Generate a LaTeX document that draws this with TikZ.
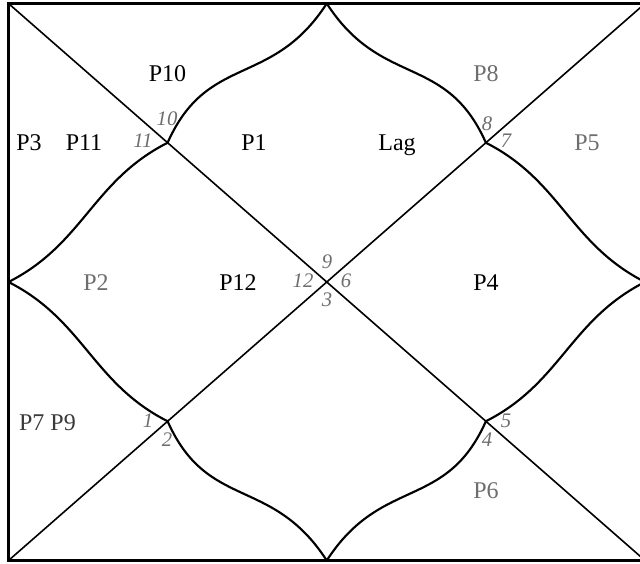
\documentclass[tikz,border=0pt]{standalone}
\usepackage{fontspec}
\setmainfont{Liberation Serif}
\usetikzlibrary{calc}
\definecolor{dimtext}{HTML}{6E6E6E}
\definecolor{midtext}{HTML}{3A3A3A}
\begin{document}
\begin{tikzpicture}[x=0.75pt,y=-0.75pt,
  house/.style={font=\fontsize{18}{20}\selectfont, anchor=base, inner sep=0pt},
  dimhouse/.style={house, text=dimtext},
  num/.style={font=\fontsize{15.5}{17}\selectfont\itshape, text=dimtext, inner sep=0pt},
  frame/.style={line width=2.7pt},
  diag/.style={line width=1.2pt},
  petal/.style={line width=1.6pt}]
\useasboundingbox (0,0) rectangle (640,564);
\fill[white] (0,0) rectangle (640,564);
\clip (0,0) rectangle (640,564);
% key points
\coordinate (TL) at (8.5,3.5);
\coordinate (TR) at (645,3.5);
\coordinate (BL) at (8.5,560.5);
\coordinate (BR) at (645,560.5);
\coordinate (T) at (326.75,3.5);
\coordinate (B) at (326.75,560.5);
\coordinate (L) at (8.5,282);
\coordinate (R) at (645,282);
\coordinate (C) at (326.75,282);
\coordinate (Q1) at (167.6,142.75);
\coordinate (Q2) at (485.9,142.75);
\coordinate (Q3) at (167.6,421.25);
\coordinate (Q4) at (485.9,421.25);
% diagonals
\draw[diag] (TL) -- (BR);
\draw[diag] (BL) -- (TR);
% curved diamond
\draw[petal] (T) .. controls ($(T)+(-55,85)$) and ($(Q1)+(40,-90)$) .. (Q1);
\draw[petal] (T) .. controls ($(T)+(55,85)$) and ($(Q2)+(-40,-90)$) .. (Q2);
\draw[petal] (B) .. controls ($(B)+(-55,-85)$) and ($(Q3)+(40,90)$) .. (Q3);
\draw[petal] (B) .. controls ($(B)+(55,-85)$) and ($(Q4)+(-40,90)$) .. (Q4);
\draw[petal] (L) .. controls ($(L)+(75,-38)$) and ($(Q1)+(-75,38)$) .. (Q1);
\draw[petal] (L) .. controls ($(L)+(75,38)$) and ($(Q3)+(-75,-38)$) .. (Q3);
\draw[petal] (R) .. controls ($(R)+(-75,-38)$) and ($(Q2)+(75,38)$) .. (Q2);
\draw[petal] (R) .. controls ($(R)+(-75,38)$) and ($(Q4)+(75,-38)$) .. (Q4);
% frame
\draw[frame] (TL) rectangle (BR);
% house labels
\node[house] (p10) at (167.5,81) {P10};
\node[dimhouse] (p8) at (486,81) {P8};
\node[house] (p3) at (29,150) {P3};
\node[house] (p11) at (84,150) {P11};
\node[house] (p1) at (254,150) {P1};
\node[house] (lag) at (397,150) {Lag};
\node[dimhouse] (p5) at (587,150) {P5};
\node[dimhouse] (p2) at (96,290) {P2};
\node[house] (p12) at (238,290) {P12};
\node[house] (p4) at (486,290) {P4};
\node[house, text=midtext] (p79) at (47.5,430) {P7 P9};
\node[dimhouse] (p6) at (486,498) {P6};
% sign numbers
\node[num] (n10) at (167,119) {10};
\node[num] (n11) at (143,141) {11};
\node[num] (n8) at (487,124) {8};
\node[num] (n7) at (506,141) {7};
\node[num] (n9) at (327,262) {9};
\node[num] (n12) at (303,281) {12};
\node[num] (n6) at (346,281) {6};
\node[num] (n3) at (327,300) {3};
\node[num] (n1) at (148,421) {1};
\node[num] (n2) at (167,440) {2};
\node[num] (n5) at (506,421) {5};
\node[num] (n4) at (487,440) {4};
\end{tikzpicture}
\end{document}
